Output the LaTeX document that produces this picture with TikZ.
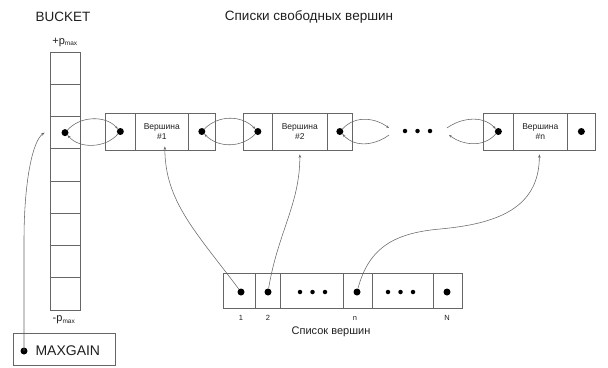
\documentclass[tikz,border=0pt]{standalone}
\usepackage{fontspec}
\setmainfont{Liberation Sans}
\usetikzlibrary{arrows.meta}
\definecolor{linegray}{gray}{0.4}
\definecolor{inkgray}{gray}{0.12}

\begin{document}
\begin{tikzpicture}[x=1pt,y=-1pt,
  every node/.style={text=inkgray},
  cellbox/.style={draw=linegray, line width=0.7pt, inner sep=0pt, anchor=west,
                  minimum height=37pt},
  bcell/.style={draw=linegray, line width=0.7pt, inner sep=0pt,
                minimum width=30pt, minimum height=32.25pt},
  lcell/.style={draw=linegray, line width=0.7pt, inner sep=0pt, anchor=west,
                minimum height=35pt},
  dot/.style={circle, fill=black, inner sep=0pt, minimum size=7pt},
  sdot/.style={circle, fill=black, inner sep=0pt, minimum size=4.5pt},
  vtext/.style={font=\fontsize{8.5}{9.5}\selectfont, align=center},
  lnk/.style={draw=linegray, line width=0.55pt, -{Stealth[length=3pt,width=2.4pt]}},
  ptr/.style={draw=linegray, line width=0.55pt, -{Stealth[length=3.5pt,width=2.6pt]}},
  idx/.style={font=\fontsize{7.5}{8}\selectfont},
  big/.style={font=\fontsize{13.5}{15}\selectfont}
]
\useasboundingbox (0,0) rectangle (608,367);

% titles
\node[big] (bucketlbl) at (63,17) {BUCKET};
\node[big] (freelbl) at (309,17) {Списки свободных вершин};

% BUCKET array
\foreach \i in {1,...,8}
  \node[bcell] (b\i) at (65,{52+32.25*(\i-0.5)}) {};
\node[dot] (bd) at (b3.center) {};
\node[font=\fontsize{11}{12}\selectfont] (pmaxtop) at (65,42) {+p\textsubscript{\fontsize{6.5}{6.5}\selectfont max}};
\node[font=\fontsize{11}{12}\selectfont] (pmaxbot) at (64,320) {-p\textsubscript{\fontsize{6.5}{6.5}\selectfont max}};

% free vertex #1
\node[cellbox, minimum width=30pt] (l1) at (105,131.5) {};
\node[cellbox, minimum width=53pt, vtext] (t1) at (135,131.5) {Вершина\\\#1};
\node[cellbox, minimum width=27pt] (r1) at (188,131.5) {};
\node[dot] (l1d) at (l1.center) {};
\node[dot] (r1d) at (r1.center) {};

% free vertex #2
\node[cellbox, minimum width=29pt] (l2) at (243,131.5) {};
\node[cellbox, minimum width=55pt, vtext] (t2) at (272,131.5) {Вершина\\\#2};
\node[cellbox, minimum width=25pt] (r2) at (327,131.5) {};
\node[dot] (l2d) at (l2.center) {};
\node[dot] (r2d) at (r2.center) {};

% ellipsis in the free list
\node[sdot] (e1) at (405,131) {};
\node[sdot] (e2) at (417.5,131) {};
\node[sdot] (e3) at (430,131) {};
\coordinate (ga) at (389,128);
\coordinate (gb) at (389,135);
\coordinate (gc) at (447,128);
\coordinate (gd) at (449,135);

% free vertex #n
\node[cellbox, minimum width=30pt] (ln) at (483,131.5) {};
\node[cellbox, minimum width=54pt, vtext] (tn) at (513,131.5) {Вершина\\\#n};
\node[cellbox, minimum width=28pt] (rn) at (567,131.5) {};
\node[dot] (lnd) at (ln.center) {};
\node[dot] (rnd) at (rn.center) {};

% doubly linked connections
\draw[lnk] (bd.north east) .. controls +(12,-14) and +(-12,-14) .. (l1d.north west);
\draw[lnk] (l1d.south west) .. controls +(-12,14) and +(12,14) .. (bd.south east);
\draw[lnk] (r1d.north east) .. controls +(14,-14) and +(-14,-14) .. (l2d.north west);
\draw[lnk] (l2d.south west) .. controls +(-14,14) and +(14,14) .. (r1d.south east);
\draw[lnk] (r2d.north east) .. controls +(14,-15) and +(-12,-9) .. (ga);
\draw[lnk] (gb) .. controls +(-12,9) and +(14,15) .. (r2d.south east);
\draw[lnk] (gc) .. controls +(12,-9) and +(-14,-15) .. (lnd.north west);
\draw[lnk] (lnd.south west) .. controls +(-14,15) and +(12,9) .. (gd);

% vertex list
\node[lcell, minimum width=32pt] (c1) at (223,290.5) {};
\node[lcell, minimum width=25pt] (c2) at (255,290.5) {};
\node[lcell, minimum width=63pt] (c3) at (280,290.5) {};
\node[lcell, minimum width=29pt] (c4) at (343,290.5) {};
\node[lcell, minimum width=61pt] (c5) at (372,290.5) {};
\node[lcell, minimum width=29pt] (c6) at (433,290.5) {};
\node[dot] (c1d) at (241,292) {};
\node[dot] (c2d) at (268,292) {};
\node[sdot] (c3a) at (300,292) {};
\node[sdot] (c3b) at (312.5,292) {};
\node[sdot] (c3c) at (325,292) {};
\node[dot] (c4d) at (357,292) {};
\node[sdot] (c5a) at (388,292) {};
\node[sdot] (c5b) at (400.5,292) {};
\node[sdot] (c5c) at (413,292) {};
\node[dot] (c6d) at (447,292) {};
\node[idx] (i1) at (241,318) {1};
\node[idx] (i2) at (268,318) {2};
\node[idx] (in) at (355,318) {n};
\node[idx] (iN) at (447,318) {N};
\node[font=\fontsize{11}{12}\selectfont] (vlist) at (331,332) {Список вершин};

% pointers from the vertex list to the free vertices
\draw[ptr] (c1d) .. controls +(-45,-60) and +(0,55) .. ([shift={(3pt,4pt)}]t1.south);
\draw[ptr] (c2d) .. controls +(10,-60) and +(0,50) .. ([yshift=-4pt]t2.south);
\draw[ptr] (c4d) .. controls +(12,-45) and +(-45,4) .. (440,229)
  .. controls +(55,-5) and +(0,55) .. ([shift={(-1pt,-4pt)}]tn.south);

% MAXGAIN
\node[draw=linegray, line width=0.7pt, minimum width=102pt, minimum height=32pt,
      inner sep=0pt] (mg) at (64,349) {};
\node[dot] (mgd) at (24,351) {};
\node[font=\fontsize{14}{15}\selectfont, anchor=west] (mgt) at (32,351) {MAXGAIN};
\draw[ptr] (mgd.center) -- ++(0,-110)
  .. controls +(0,-60) and +(-12,8) .. ([xshift=-5pt]b3.west);
\end{tikzpicture}
\end{document}
